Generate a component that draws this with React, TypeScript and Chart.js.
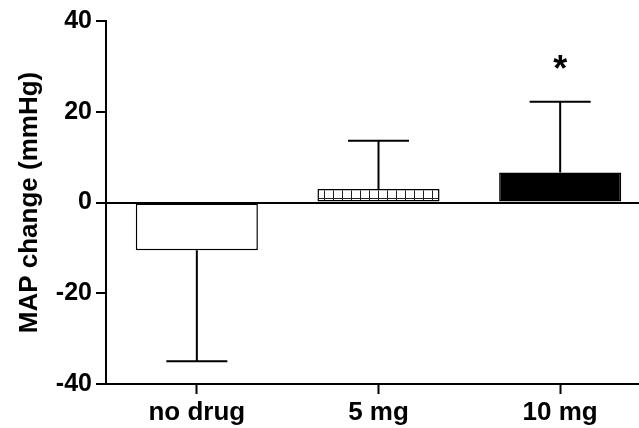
import React, { useEffect, useRef } from "react";
import { Chart, registerables } from "chart.js";

Chart.register(...registerables);

const categories = ["no drug", "5 mg", "10 mg"];
const meanValues = [-10.5, 3.0, 6.6];
const errorValues = [24.5, 10.6, 15.6];
const significanceMarks = ["", "", "*"];
const markValues = [null, null, 31.3];
const yTickValues = [-40, -20, 0, 20, 40];
const yAxisTitle = "MAP change (mmHg)";

const FONT = 'Arial, "Liberation Sans", Helvetica, sans-serif';

function makeGridPattern(): CanvasPattern | string {
  const c = document.createElement("canvas");
  c.width = 9;
  c.height = 9;
  const g = c.getContext("2d");
  if (!g) return "#ffffff";
  g.fillStyle = "#ffffff";
  g.fillRect(0, 0, 9, 9);
  g.strokeStyle = "#222222";
  g.lineWidth = 1;
  g.beginPath();
  g.moveTo(0.5, 0);
  g.lineTo(0.5, 9);
  g.moveTo(0, 0.5);
  g.lineTo(9, 0.5);
  g.stroke();
  const p = g.createPattern(c, "repeat");
  return p || "#ffffff";
}

const errorBarPlugin = {
  id: "errorBars",
  afterDatasetsDraw(chart: any) {
    const meta = chart.getDatasetMeta(0);
    const yScale = chart.scales.y;
    const ctx = chart.ctx;
    ctx.save();
    ctx.strokeStyle = "#000000";
    ctx.lineWidth = 2;
    meta.data.forEach((bar: any, i: number) => {
      const v = meanValues[i];
      const e = errorValues[i];
      const end = v >= 0 ? v + e : v - e;
      const x = bar.x;
      const y0 = yScale.getPixelForValue(v);
      const y1 = yScale.getPixelForValue(end);
      const half = bar.width / 4;
      ctx.beginPath();
      ctx.moveTo(x, y0);
      ctx.lineTo(x, y1);
      ctx.moveTo(x - half, y1);
      ctx.lineTo(x + half, y1);
      ctx.stroke();
      const m = markValues[i];
      if (significanceMarks[i] && m !== null) {
        const fs = 36;
        ctx.fillStyle = "#000000";
        ctx.font = `bold ${fs}px ${FONT}`;
        ctx.textAlign = "center";
        ctx.textBaseline = "alphabetic";
        ctx.fillText(significanceMarks[i], x, yScale.getPixelForValue(m) + fs * 0.57);
      }
    });
    ctx.restore();
  },
};

export default function App() {
  const ref = useRef<HTMLCanvasElement | null>(null);

  useEffect(() => {
    if (!ref.current) return;
    const pattern = makeGridPattern();
    const chart = new Chart(ref.current, {
      type: "bar",
      data: {
        labels: categories,
        datasets: [
          {
            data: meanValues,
            backgroundColor: ["#ffffff", pattern as any, "#000000"],
            borderColor: "#000000",
            borderWidth: 1.5,
            borderSkipped: false,
            categoryPercentage: 1,
            barPercentage: 0.672,
          },
        ],
      },
      options: {
        responsive: false,
        animation: false,
        devicePixelRatio: 1,
        layout: { padding: { top: 21, left: 0, right: 0, bottom: 0 } },
        plugins: {
          legend: { display: false },
          tooltip: { enabled: false },
        },
        scales: {
          x: {
            offset: true,
            border: { display: true, color: "#000000", width: 2 },
            grid: {
              offset: false,
              drawOnChartArea: false,
              drawTicks: true,
              tickLength: 10,
              tickColor: "#000000",
              tickWidth: 2,
            },
            ticks: {
              color: "#000000",
              padding: 3,
              font: { family: FONT, size: 26, weight: "bold" },
            },
            afterFit(scale: any) {
              scale.height = 44;
            },
          },
          y: {
            min: -40,
            max: 40,
            border: { display: true, color: "#000000", width: 2 },
            grid: {
              drawTicks: true,
              tickLength: 10,
              tickWidth: 2,
              tickColor: "#000000",
              lineWidth: (c: any) => (c.tick && c.tick.value === 0 ? 2 : 0),
              color: (c: any) => (c.tick && c.tick.value === 0 ? "#000000" : "rgba(0,0,0,0)"),
            },
            afterBuildTicks(scale: any) {
              scale.ticks = yTickValues.map((v) => ({ value: v }));
            },
            ticks: {
              color: "#000000",
              padding: 4,
              font: { family: FONT, size: 25, weight: "bold" },
            },
            title: {
              display: true,
              text: yAxisTitle,
              color: "#000000",
              padding: { top: 14, bottom: 0 },
              font: { family: FONT, size: 26, weight: "bold" },
            },
            afterFit(scale: any) {
              scale.width = 106;
            },
          },
        },
      },
      plugins: [errorBarPlugin],
    });
    return () => chart.destroy();
  }, []);

  return (
    <div
      style={{
        position: "fixed",
        left: 0,
        top: 0,
        width: 639,
        height: 428,
        overflow: "hidden",
        background: "#ffffff",
      }}
    >
      <canvas ref={ref} width={651} height={428} style={{ display: "block" }} />
    </div>
  );
}
